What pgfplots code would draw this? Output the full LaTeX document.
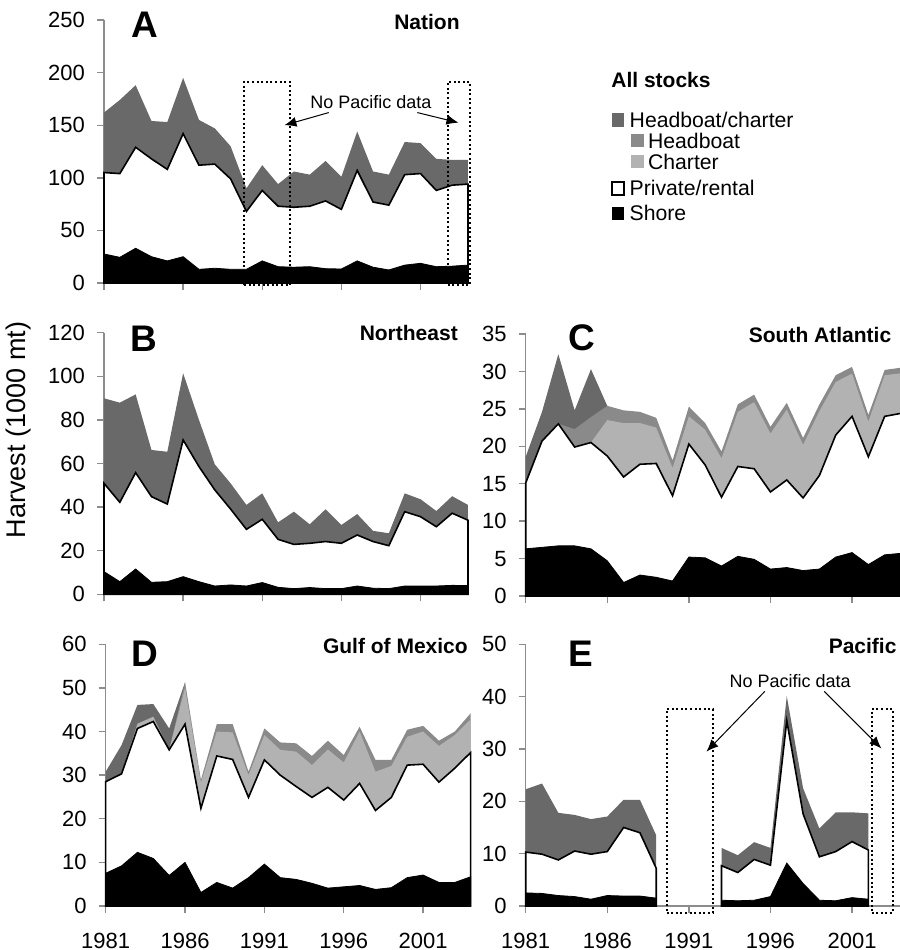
\documentclass[border=0pt]{standalone}
\usepackage{fontspec}
\setmainfont{Liberation Sans}
\usepackage{pgfplots}
\pgfplotsset{compat=1.18}
\usetikzlibrary{arrows.meta}
\definecolor{darkg}{RGB}{105,105,105}
\definecolor{medg}{RGB}{138,138,138}
\definecolor{lightg}{RGB}{178,178,178}
\definecolor{axg}{RGB}{140,140,140}
\pgfplotsset{
 panel/.style={
  scale only axis, anchor=south west,
  xmin=1981, xmax=2004, ymin=0,
  axis lines*=left,
  axis line style={draw=axg, line width=0.7pt, -},
  tick style={draw=axg, line width=0.7pt},
  major tick length=3.5pt, tick align=outside,
  xtick={1981,1986,1991,1996,2001},
  ticklabel style={font=\fontsize{11}{13}\selectfont, text=black},
  yticklabel style={xshift=-2.5pt},
  xticklabel style={yshift=-6.5pt},
  /pgf/number format/assume math mode=true,
  /pgf/number format/1000 sep={},
  clip=false,
 },
 hc/.style={fill=darkg, draw=none, mark=none},
 hb/.style={fill=medg, draw=none, mark=none},
 ch/.style={fill=lightg, draw=none, mark=none},
 pr/.style={fill=white, draw=black, line width=0.8pt, mark=none},
 sh/.style={fill=black, draw=black, line width=0.4pt, mark=none},
 box/.style={black, line width=1pt, dash pattern=on 1pt off 1.3pt, mark=none},
}
\newcommand{\letter}{\fontsize{18.5}{20}\selectfont\bfseries}
\newcommand{\ttl}{\fontsize{10.5}{12}\selectfont\bfseries}
\newcommand{\ann}{\fontsize{9}{11}\selectfont}
\begin{document}
\begin{tikzpicture}
\useasboundingbox (0,0) rectangle (450pt,475pt);
% ---------------- A ----------------
\begin{axis}[panel, at={(52pt,333.5pt)}, width=182pt, height=131.5pt,
  ymax=250, ytick={0,50,100,150,200,250}, xticklabels={}]
\addplot[hc] coordinates {(1981,162)(1982,174)(1983,188)(1984,154)(1985,153)(1986,195)(1987,155)(1988,147)(1989,130)(1990,90)(1991,112)(1992,94)(1993,106)(1994,103)(1995,116)(1996,101)(1997,144)(1998,106)(1999,103)(2000,134)(2001,133)(2002,118)(2003,117)(2004,117)} \closedcycle;
\addplot[pr] coordinates {(1981,105)(1982,104)(1983,129)(1984,118)(1985,108)(1986,142)(1987,112)(1988,113)(1989,99)(1990,68)(1991,88)(1992,73)(1993,72)(1994,73)(1995,78)(1996,70)(1997,107)(1998,77)(1999,74)(2000,103)(2001,104)(2002,88)(2003,93)(2004,94)} \closedcycle;
\addplot[sh] coordinates {(1981,27.6)(1982,24.4)(1983,33)(1984,25)(1985,21)(1986,25)(1987,13)(1988,14)(1989,13)(1990,13)(1991,21)(1992,15.5)(1993,15)(1994,15.5)(1995,13.6)(1996,13.3)(1997,21)(1998,15)(1999,12.4)(2000,17)(2001,18.7)(2002,15.5)(2003,16)(2004,17)} \closedcycle;
\addplot[box] coordinates {(1989.86,-2)(1992.75,-2)(1992.75,191.4)(1989.86,191.4)(1989.86,-2)};
\addplot[box] coordinates {(2002.73,-2)(2004.1,-2)(2004.1,191.4)(2002.73,191.4)(2002.73,-2)};
\node[font=\ann] at (axis cs:1997.86,172.3) {No Pacific data};
\draw[-{Latex[length=6pt,width=5pt]}, line width=0.5pt] (axis cs:1995.2,162) -- (axis cs:1992.4,150);
\draw[-{Latex[length=6pt,width=5pt]}, line width=0.5pt] (axis cs:2000.8,162) -- (axis cs:2003.4,152.4);
\node[font=\letter] at (axis description cs:0.113,0.981) {A};
\node[font=\ttl, anchor=east, inner sep=0pt] at (axis description cs:0.978,0.994) {Nation};
\end{axis}
% ---------------- B ----------------
\begin{axis}[panel, at={(52pt,177.85pt)}, width=182pt, height=130.8pt,
  ymax=120, ytick={0,20,40,60,80,100,120}, xticklabels={}]
\addplot[hc] coordinates {(1981,89.9)(1982,87.9)(1983,91.7)(1984,66.2)(1985,65.4)(1986,101.4)(1987,80)(1988,59.6)(1989,50.9)(1990,41)(1991,46.3)(1992,33)(1993,37.9)(1994,32.1)(1995,39)(1996,31.8)(1997,36.8)(1998,29.1)(1999,28)(2000,46.3)(2001,43.6)(2002,38.2)(2003,45)(2004,41)} \closedcycle;
\addplot[pr] coordinates {(1981,50.9)(1982,42.2)(1983,55.8)(1984,44.8)(1985,41.4)(1986,70.8)(1987,58.6)(1988,47.9)(1989,39.1)(1990,29.8)(1991,34.4)(1992,25.2)(1993,22.9)(1994,23.4)(1995,24.2)(1996,23.4)(1997,27.2)(1998,24.2)(1999,22.3)(2000,37.9)(2001,35.6)(2002,31)(2003,37.2)(2004,34)} \closedcycle;
\addplot[sh] coordinates {(1981,10.4)(1982,5.8)(1983,11.6)(1984,5.5)(1985,5.8)(1986,8.1)(1987,5.8)(1988,3.8)(1989,4.3)(1990,3.8)(1991,5.4)(1992,3.2)(1993,2.6)(1994,3.1)(1995,2.6)(1996,2.6)(1997,3.8)(1998,2.8)(1999,2.6)(2000,3.8)(2001,3.8)(2002,3.8)(2003,4.1)(2004,4)} \closedcycle;
\node[font=\letter] at (axis description cs:0.11,0.976) {B};
\node[font=\ttl, anchor=east, inner sep=0pt] at (axis description cs:0.973,0.999) {Northeast};
\end{axis}
% ---------------- C ----------------
\begin{axis}[panel, at={(262.85pt,177pt)}, width=187.65pt, height=131pt,
  ymax=35, ytick={0,5,10,15,20,25,30,35}, xticklabels={}]
\addplot[hc] coordinates {(1981,18.6)(1982,24.6)(1983,32.3)(1984,24.8)(1985,30.3)(1986,25.4)} \closedcycle;
\addplot[hb] coordinates {(1983,23.0)(1984,22.3)(1985,23.9)(1986,25.4)(1987,24.8)(1988,24.6)(1989,23.8)(1990,18.1)(1991,25.3)(1992,23.1)(1993,19.3)(1994,25.6)(1995,26.9)(1996,22.6)(1997,25.8)(1998,21.1)(1999,25.6)(2000,29.5)(2001,30.6)(2002,24.2)(2003,30.2)(2004,30.5)} \closedcycle;
\addplot[ch] coordinates {(1985,20.5)(1986,23.5)(1987,23.1)(1988,23.1)(1989,22.5)(1990,17.1)(1991,24.0)(1992,22.2)(1993,18.4)(1994,24.6)(1995,25.9)(1996,21.7)(1997,24.9)(1998,20.2)(1999,24.7)(2000,28.6)(2001,29.7)(2002,23.3)(2003,29.5)(2004,29.75)} \closedcycle;
\addplot[pr] coordinates {(1981,15.1)(1982,20.7)(1983,23.0)(1984,19.9)(1985,20.5)(1986,18.7)(1987,15.9)(1988,17.6)(1989,17.7)(1990,13.4)(1991,20.3)(1992,17.5)(1993,13.2)(1994,17.3)(1995,17.0)(1996,13.9)(1997,15.5)(1998,13.1)(1999,16.1)(2000,21.5)(2001,24.0)(2002,18.6)(2003,24.0)(2004,24.4)} \closedcycle;
\addplot[sh] coordinates {(1981,6.3)(1982,6.5)(1983,6.7)(1984,6.7)(1985,6.3)(1986,4.7)(1987,1.8)(1988,2.8)(1989,2.5)(1990,2.0)(1991,5.2)(1992,5.1)(1993,4.0)(1994,5.3)(1995,4.9)(1996,3.6)(1997,3.8)(1998,3.4)(1999,3.6)(2000,5.2)(2001,5.8)(2002,4.2)(2003,5.5)(2004,5.7)} \closedcycle;
\node[font=\letter] at (axis description cs:0.15,0.985) {C};
\node[font=\ttl, anchor=east, inner sep=0pt] at (axis description cs:0.975,0.996) {South Atlantic};
\end{axis}
% ---------------- D ----------------
\begin{axis}[panel, at={(52.85pt,22pt)}, width=182.5pt, height=130.85pt,
  ymax=60, ytick={0,10,20,30,40,50,60}]
\addplot[hc] coordinates {(1981,30.8)(1982,36.9)(1983,46.1)(1984,46.3)(1985,40.7)(1986,51.3)} \closedcycle;
\addplot[hb] coordinates {(1985,35.8)(1986,51.3)(1987,28.9)(1988,41.7)(1989,41.7)(1990,30.8)(1991,40.7)(1992,37.5)(1993,37.3)(1994,34.4)(1995,37.9)(1996,34.6)(1997,41.1)(1998,33.5)(1999,33.5)(2000,40.4)(2001,41.3)(2002,37.9)(2003,40)(2004,44.2)} \closedcycle;
\addplot[ch] coordinates {(1982,30.3)(1983,41.8)(1984,43.4)(1985,35.8)(1986,50.0)(1987,28.3)(1988,40.0)(1989,39.8)(1990,30.0)(1991,39.2)(1992,35.8)(1993,35.4)(1994,32.3)(1995,35.9)(1996,32.9)(1997,40.0)(1998,30.8)(1999,32.1)(2000,38.8)(2001,40.0)(2002,36.7)(2003,39.2)(2004,42.8)} \closedcycle;
\addplot[pr] coordinates {(1981,28.5)(1982,30.3)(1983,40.7)(1984,42.3)(1985,35.8)(1986,41.7)(1987,22.4)(1988,34.4)(1989,33.6)(1990,24.9)(1991,33.5)(1992,30)(1993,27.4)(1994,24.9)(1995,27.2)(1996,24.3)(1997,28.1)(1998,21.9)(1999,24.9)(2000,32.3)(2001,32.5)(2002,28.4)(2003,31.6)(2004,35.2)} \closedcycle;
\addplot[sh] coordinates {(1981,7.5)(1982,9.2)(1983,12.3)(1984,10.9)(1985,7.0)(1986,10.0)(1987,3.1)(1988,5.4)(1989,4.1)(1990,6.5)(1991,9.6)(1992,6.5)(1993,6.1)(1994,5.2)(1995,4.1)(1996,4.4)(1997,4.7)(1998,3.8)(1999,4.2)(2000,6.5)(2001,7.1)(2002,5.4)(2003,5.4)(2004,6.7)} \closedcycle;
\node[font=\letter] at (axis description cs:0.108,0.963) {D};
\node[font=\ttl, anchor=east, inner sep=0pt] at (axis description cs:0.993,0.993) {Gulf of Mexico};
\end{axis}
% ---------------- E ----------------
\begin{axis}[panel, at={(262.85pt,22pt)}, width=187.65pt, height=130.85pt,
  ymax=50, ytick={0,10,20,30,40,50}]
\addplot[hc] coordinates {(1981,22.3)(1982,23.4)(1983,17.8)(1984,17.4)(1985,16.6)(1986,17.1)(1987,20.3)(1988,20.3)(1989,13.5)} \closedcycle;
\addplot[pr] coordinates {(1981,10.3)(1982,9.9)(1983,8.8)(1984,10.5)(1985,9.9)(1986,10.4)(1987,15.0)(1988,14.0)(1989,7.2)} \closedcycle;
\addplot[sh] coordinates {(1981,2.5)(1982,2.4)(1983,2.0)(1984,1.8)(1985,1.3)(1986,2.0)(1987,1.9)(1988,1.9)(1989,1.5)} \closedcycle;
\addplot[hc] coordinates {(1993,11.1)(1994,9.7)(1995,12.2)(1996,11.1)(1997,40.1)(1998,22.5)(1999,14.8)(2000,17.9)(2001,17.9)(2002,17.7)} \closedcycle;
\addplot[pr] coordinates {(1993,7.7)(1994,6.4)(1995,8.9)(1996,7.8)(1997,35.4)(1998,17.6)(1999,9.4)(2000,10.4)(2001,12.3)(2002,10.7)} \closedcycle;
\addplot[sh] coordinates {(1993,1.1)(1994,1.0)(1995,1.1)(1996,1.8)(1997,8.2)(1998,4.3)(1999,1.1)(2000,1.0)(2001,1.6)(2002,1.3)} \closedcycle;
\addplot[box] coordinates {(1989.63,-1.3)(1992.49,-1.3)(1992.49,37.6)(1989.63,37.6)(1989.63,-1.3)};
\addplot[box] coordinates {(2002.2,-1.3)(2003.5,-1.3)(2003.5,37.6)(2002.2,37.6)(2002.2,-1.3)};
\node[font=\ann] at (axis cs:1997.2,42.9) {No Pacific data};
\draw[-{Latex[length=6pt,width=5pt]}, line width=0.5pt] (axis cs:1995.65,41.0) -- (axis cs:1992.08,29.5);
\draw[-{Latex[length=6pt,width=5pt]}, line width=0.5pt] (axis cs:1999.3,41.0) -- (axis cs:2002.8,30.1);
\node[font=\letter] at (axis description cs:0.147,0.963) {E};
\node[font=\ttl, anchor=east, inner sep=0pt] at (axis description cs:0.989,0.993) {Pacific};
\end{axis}
% ---------------- legend and labels ----------------
\node[font=\fontsize{10.5}{12}\selectfont\bfseries] at (330.5pt,435pt) {All stocks};
\begin{scope}[every node/.style={font=\fontsize{10.6}{12}\selectfont, anchor=west, inner sep=0pt}]
\fill[darkg] (305.85pt,411.65pt) rectangle (312.15pt,418.35pt);
\node at (314.65pt,415pt) {Headboat/charter};
\fill[medg] (315.35pt,401.35pt) rectangle (322pt,408pt);
\node at (323.85pt,404.65pt) {Headboat};
\fill[lightg] (315.35pt,390.85pt) rectangle (322pt,397.5pt);
\node at (323.85pt,394.15pt) {Charter};
\draw[black, line width=1pt] (305.85pt,377.5pt) rectangle (312pt,384.15pt);
\node at (314.65pt,380.85pt) {Private/rental};
\fill[black] (305.85pt,365pt) rectangle (312.15pt,371.65pt);
\node at (314.65pt,368.35pt) {Shore};
\end{scope}
\node[rotate=90, font=\fontsize{13.5}{15}\selectfont] at (9.5pt,260pt) {Harvest (1000 mt)};
\end{tikzpicture}
\end{document}
